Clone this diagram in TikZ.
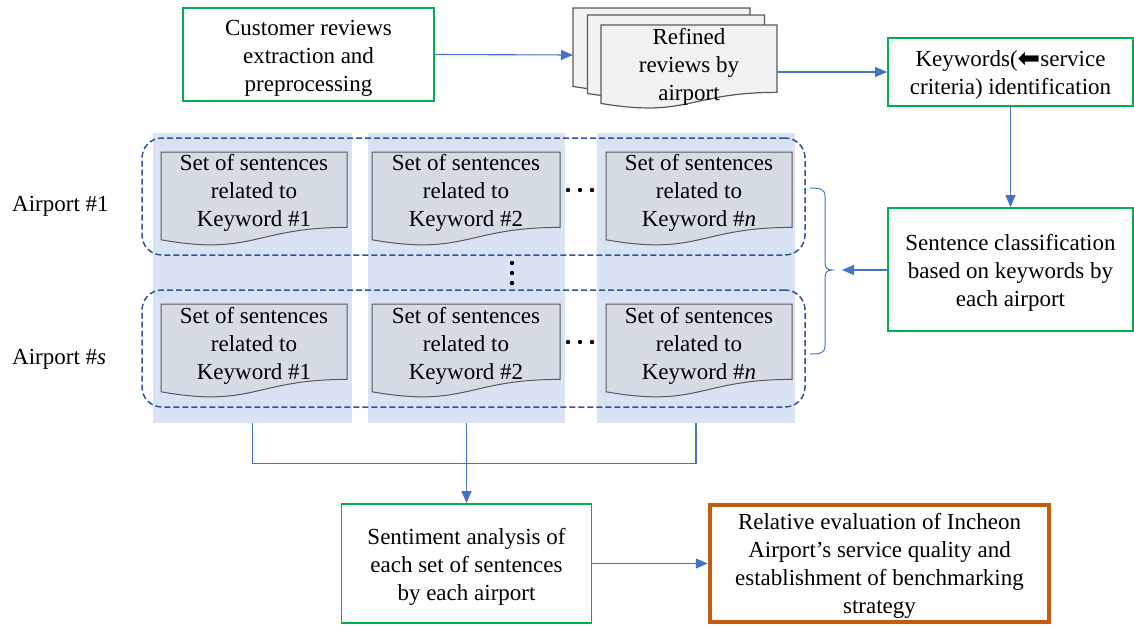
\documentclass[tikz,border=0pt]{standalone}
\usepackage{fontspec}
\setmainfont{Liberation Serif}
\newfontfamily\symfont{DejaVu Sans}
\usetikzlibrary{arrows.meta,calc}
\definecolor{grn}{HTML}{00B050}
\definecolor{org}{HTML}{C55A11}
\definecolor{arr}{HTML}{4472C4}
\definecolor{colbg}{HTML}{DAE3F3}
\definecolor{docbg}{HTML}{D6DCE5}
\definecolor{stackbg}{HTML}{F2F2F2}
\definecolor{dashc}{HTML}{2F5597}
\definecolor{docln}{HTML}{595959}
\tikzset{
  txt/.style={align=center, font=\fontsize{23}{28}\selectfont, inner sep=0pt},
  greenbox/.style={draw=grn, line width=1.8pt, inner sep=0pt},
  orangebox/.style={draw=org, line width=4.5pt, inner sep=0pt},
  colbox/.style={fill=colbg, draw=none, inner sep=0pt},
  dashbox/.style={draw=dashc, line width=1.5pt, dash pattern=on 6pt off 3pt, rounded corners=20pt},
  docfill/.style={fill=docbg, draw=docln, line width=1pt},
  stackfill/.style={fill=stackbg, draw=docln, line width=1.2pt},
  conn/.style={draw=arr, line width=1.1pt},
  arrow/.style={conn, -{Triangle[length=12pt,width=10pt]}},
}
% document shape: #1 centre coordinate, #2 style, #3 width, #4 height, #5 top above centre
\newcommand\docshape[5]{%
  \path[#2] ($(#1)+({-#3/2},{-#5})$)
    -- ($(#1)+({#3/2},{-#5})$)
    -- ($(#1)+({#3/2},{-#5+0.802*#4})$)
    .. controls ($(#1)+(0,{-#5+0.802*#4})$) and ($(#1)+(0,{-#5+1.108*#4})$)
    .. ($(#1)+({-#3/2},{-#5+0.934*#4})$) -- cycle;}
\begin{document}
\begin{tikzpicture}[x=1pt,y=-1pt]
\useasboundingbox (0,0) rectangle (1134,625);

% top row
\node[greenbox, minimum width=251, minimum height=93] (box1) at (308.5,54.5) {};
\node[txt] (box1t) at ([yshift=-3.5pt]box1.center) {Customer reviews\\extraction and\\preprocessing};

\coordinate (refb) at (661.5,47);
\coordinate (refm) at (676,54);
\coordinate (refc) at (689,63);
\docshape{refb}{stackfill}{177}{84}{39}
\docshape{refm}{stackfill}{177}{84}{39}
\docshape{refc}{stackfill}{176}{84}{38}
\node[txt] (ref) at ([yshift=-3.5pt]refc) {Refined\\reviews by\\airport};

\node[greenbox, minimum width=245, minimum height=68] (kw) at (1010.5,72) {};
\node[txt] (kwt) at ([yshift=-3pt]kw.center)
  {Keywords({\symfont\fontsize{27}{20}\selectfont\raisebox{-0.5pt}{⬅}}service\\criteria) identification};

\node[greenbox, minimum width=245, minimum height=123] (cls) at (1010.5,269.5) {};
\node[txt] (clst) at ([yshift=-3pt]cls.center)
  {Sentence classification\\based on keywords by\\each airport};

% column backgrounds
\node[colbox, minimum width=199, minimum height=290] (c1) at (252.5,278) {};
\node[colbox, minimum width=197, minimum height=290] (c2) at (466.5,278) {};
\node[colbox, minimum width=198, minimum height=290] (c3) at (696,278) {};

% dashed airport groups
\node[dashbox, minimum width=663, minimum height=117] (row1) at (473.5,196.5) {};
\node[dashbox, minimum width=663, minimum height=117] (row2) at (473.5,348.5) {};

% documents
\coordinate (d11) at (254,190);
\coordinate (d12) at (466,190);
\coordinate (d13) at (699,190);
\coordinate (d21) at (254,343);
\coordinate (d22) at (466,343);
\coordinate (d23) at (699,343);
\docshape{d11}{docfill}{186}{94}{38}
\docshape{d12}{docfill}{188}{94}{38}
\docshape{d13}{docfill}{186}{94}{38}
\docshape{d21}{docfill}{186}{94}{39}
\docshape{d22}{docfill}{188}{94}{39}
\docshape{d23}{docfill}{186}{94}{39}
\node[txt] (t11) at ([yshift=-3pt]d11) {Set of sentences\\related to\\Keyword \#1};
\node[txt] (t12) at ([yshift=-3pt]d12) {Set of sentences\\related to\\Keyword \#2};
\node[txt] (t13) at ([yshift=-3pt]d13) {Set of sentences\\related to\\Keyword \#\textit{n}};
\node[txt] (t21) at ([yshift=-3pt]d21) {Set of sentences\\related to\\Keyword \#1};
\node[txt] (t22) at ([yshift=-3pt]d22) {Set of sentences\\related to\\Keyword \#2};
\node[txt] (t23) at ([yshift=-3pt]d23) {Set of sentences\\related to\\Keyword \#\textit{n}};

% dots
\foreach \xx in {568,580,592} {
  \fill (\xx,190) circle (2.2);
  \fill (\xx,342) circle (2.2);
}
\foreach \yy in {263,273,283} \fill (512,\yy) circle (2.2);

% airport labels
\node[txt, anchor=west] (a1) at (12,206) {Airport \#1};
\node[txt, anchor=west] (as) at (12,359) {Airport \#\textit{s}};

% brace
\coordinate (bracetip) at (832,270);
\draw[draw=arr, line width=1pt] (810,188) .. controls (820,188) and (825,189) .. (825,196)
  -- (825,263) .. controls (825,268) and (828,270) .. (bracetip)
  .. controls (828,270) and (825,272) .. (825,277)
  -- (825,346) .. controls (825,353) and (820,354) .. (810,354);

% bottom boxes
\node[greenbox, minimum width=250, minimum height=119] (sent) at (466.5,563.5) {};
\node[txt] (sentt) at ([yshift=-3pt]sent.center)
  {Sentiment analysis of\\each set of sentences\\by each airport};
\node[orangebox, minimum width=339, minimum height=117] (rel) at (879.5,563.5) {};
\node[txt] (relt) at ([yshift=-2.5pt]rel.center)
  {Relative evaluation of Incheon\\Airport’s service quality and\\establishment of benchmarking\\strategy};

% connectors
\coordinate (stackleft) at (573,55);
\coordinate (stackright) at (777,72);
\draw[arrow] (box1.east) -- (stackleft);
\draw[arrow] (stackright) -- (kw.west);
\draw[arrow] (kw.south) -- (cls.north);
\draw[arrow] (cls.west |- bracetip) -- ([xshift=10pt]bracetip);
\draw[conn] (c1.south) -- ++(0,40) -| (c3.south);
\draw[arrow] (c2.south) -- (sent.north);
\draw[arrow] (sent.east) -- (rel.west);
\end{tikzpicture}
\end{document}
